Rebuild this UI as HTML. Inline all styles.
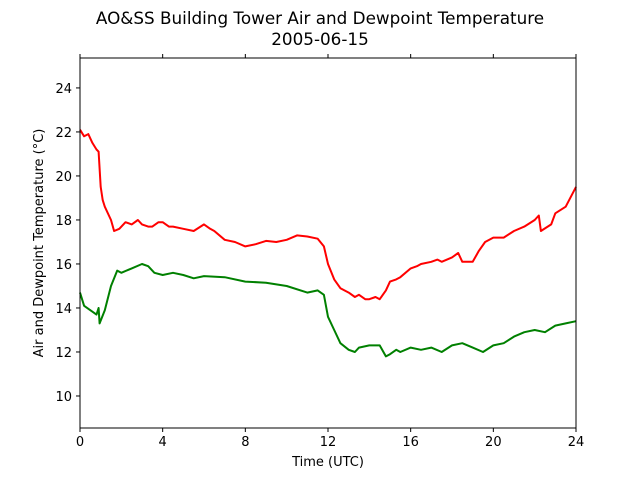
<!DOCTYPE html>
<html><head><meta charset="utf-8"><style>
body{margin:0;background:#fff}
svg text{font-family:"DejaVu Sans","Liberation Sans",sans-serif;fill:#000}
</style></head><body>
<svg id="chart" width="640" height="480" viewBox="0 0 640 480" xmlns="http://www.w3.org/2000/svg">
<rect width="640" height="480" fill="#fff"/>
<text x="320" y="24" text-anchor="middle" font-size="16.8">AO&amp;SS Building Tower Air and Dewpoint Temperature</text>
<text x="320" y="45" text-anchor="middle" font-size="16.8">2005-06-15</text>
<g id="plot"></g>
<rect x="80" y="58" width="496" height="370" fill="none" stroke="#000" stroke-width="1"/>
<text x="328" y="466" text-anchor="middle" font-size="13">Time (UTC)</text>
<text transform="translate(43,243) rotate(-90)" text-anchor="middle" font-size="13">Air and Dewpoint Temperature (°C)</text>
</svg>
<script>
const xTicks=[0,4,8,12,16,20,24];
const yTicks=[10,12,14,16,18,20,22,24];
const airTime=[0,0.2,0.4,0.6,0.8,0.9,1.0,1.1,1.2,1.5,1.65,1.9,2.2,2.5,2.8,3,3.3,3.5,3.8,4,4.3,4.5,5,5.5,6,6.3,6.5,7,7.5,8,8.5,9,9.5,10,10.5,11,11.5,11.8,12,12.3,12.6,13,13.3,13.5,13.8,14,14.3,14.5,14.8,15,15.3,15.5,16,16.3,16.5,17,17.3,17.5,18,18.3,18.5,19,19.3,19.6,20,20.5,21,21.5,22,22.2,22.3,22.8,23,23.5,24];
const airTemp=[22.1,21.8,21.9,21.5,21.2,21.1,19.5,18.9,18.6,18.0,17.5,17.6,17.9,17.8,18.0,17.8,17.7,17.7,17.9,17.9,17.7,17.7,17.6,17.5,17.8,17.6,17.5,17.1,17.0,16.8,16.9,17.05,17.0,17.1,17.3,17.25,17.15,16.8,16.0,15.3,14.9,14.7,14.5,14.6,14.4,14.4,14.5,14.4,14.8,15.2,15.3,15.4,15.8,15.9,16.0,16.1,16.2,16.1,16.3,16.5,16.1,16.1,16.6,17.0,17.2,17.2,17.5,17.7,18.0,18.2,17.5,17.8,18.3,18.6,19.5];
const dewTime=[0,0.2,0.5,0.8,0.9,0.95,1.2,1.5,1.8,2,2.5,3,3.3,3.6,4,4.5,5,5.5,6,7,8,9,10,11,11.5,11.8,12,12.3,12.6,13,13.3,13.5,14,14.5,14.8,15,15.3,15.5,16,16.5,17,17.5,18,18.5,19,19.5,20,20.5,21,21.5,22,22.5,23,23.5,24];
const dewTemp=[14.7,14.1,13.9,13.7,14.0,13.3,13.9,15.0,15.7,15.6,15.8,16.0,15.9,15.6,15.5,15.6,15.5,15.35,15.45,15.4,15.2,15.15,15.0,14.7,14.8,14.6,13.6,13.0,12.4,12.1,12.0,12.2,12.3,12.3,11.8,11.9,12.1,12.0,12.2,12.1,12.2,12.0,12.3,12.4,12.2,12.0,12.3,12.4,12.7,12.9,13.0,12.9,13.2,13.3,13.4];
const X0=80,X1=576,Y0=428,Y1=58,xMin=0,xMax=24,yMin=8.545,yMax=25.36;
const sx=v=>X0+(v-xMin)/(xMax-xMin)*(X1-X0);
const sy=v=>Y0-(v-yMin)/(yMax-yMin)*(Y0-Y1);
const NS="http://www.w3.org/2000/svg";
const g=document.getElementById('plot');
function mk(t,a){const e=document.createElementNS(NS,t);for(const k in a)e.setAttribute(k,a[k]);g.appendChild(e);return e;}
xTicks.forEach(t=>{
  const a=mk('line',{x1:sx(t),x2:sx(t),y1:Y0,y2:Y0+4,stroke:'#000'});
  
  
  const b=mk('line',{x1:sx(t),x2:sx(t),y1:Y1,y2:Y1-4,stroke:'#000'});
  
  
  const l=mk('text',{x:sx(t),y:Y0+18,'text-anchor':'middle','font-size':'13'});l.textContent=t;
  
  
});
yTicks.forEach(t=>{
  const a=mk('line',{x1:X0-4,x2:X0,y1:sy(t),y2:sy(t),stroke:'#000'});
  
  
  const l=mk('text',{x:X0-8,y:sy(t)+5,'text-anchor':'end','font-size':'13'});l.textContent=t;
  
  
});
function line(xs,ys,col,name){
  const d=xs.map((x,i)=>(i?'L':'M')+sx(x).toFixed(1)+','+sy(ys[i]).toFixed(1)).join('');
  const p=mk('path',{d:d,fill:'none',stroke:col,'stroke-width':2,'stroke-linejoin':'round'});
  
  
}
line(airTime,airTemp,'#ff0000','air-temperature-line');
line(dewTime,dewTemp,'#008000','dewpoint-temperature-line');
</script>
</body></html>
